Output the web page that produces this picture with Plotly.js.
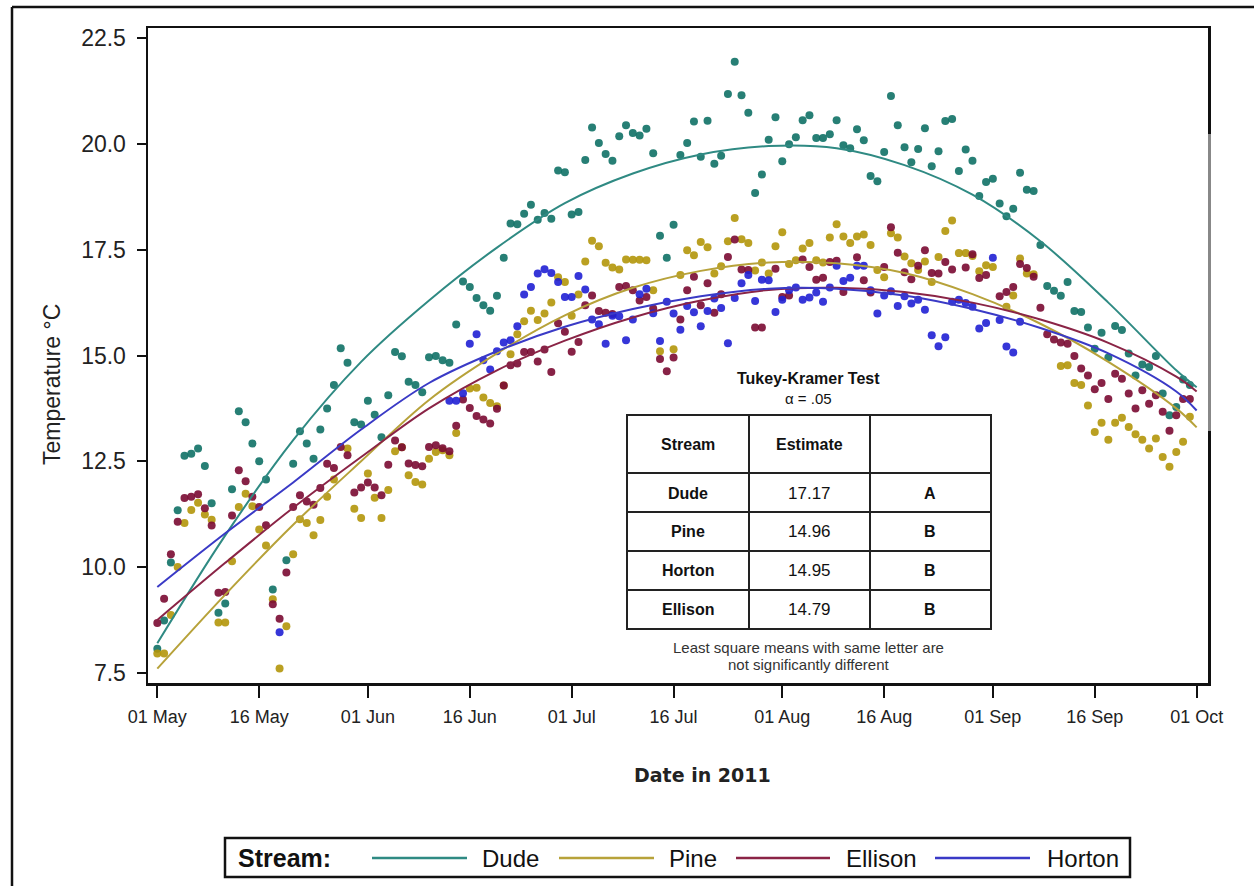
<!DOCTYPE html>
<html><head><meta charset="utf-8">
<script src="https://cdn.plot.ly/plotly-3.0.1.min.js"></script>
<style>body{margin:0;background:#fff}#chart{width:1254px;height:886px}</style>
</head><body><div id="chart"></div>
<script>
// ---------- DATA ----------
const startDate = '2011-05-01';   // day 0 of the daily series
const streams = ['Dude', 'Pine', 'Ellison', 'Horton'];

// daily mean temperature (°C), day 0 = 01 May ... day 152 = 30 Sep, null = not visible
const dudeTemp = [8.07,8.74,10.11,11.34,12.63,12.68,12.80,12.39,11.51,8.92,9.14,11.84,13.68,13.42,12.92,12.50,12.07,9.47,null,10.16,
12.44,13.21,12.92,12.56,13.25,13.75,14.30,15.17,14.83,13.42,13.37,13.93,13.60,13.07,14.06,15.08,14.98,14.38,14.30,14.13,
14.96,14.99,14.89,14.83,15.73,16.75,16.62,16.36,16.19,16.06,16.41,17.31,18.12,18.10,18.35,18.56,18.21,18.37,18.23,19.37,
19.33,18.33,18.39,19.62,20.39,20.02,19.76,19.60,20.18,20.44,20.26,20.20,20.36,19.78,17.83,17.31,18.09,19.74,20.02,20.53,
19.70,20.55,19.53,19.72,21.18,21.94,21.15,20.74,18.84,19.28,20.10,20.63,19.59,19.99,20.16,20.56,20.68,20.14,20.14,20.23,
20.56,19.97,19.90,20.35,20.09,19.24,19.12,19.81,21.13,20.44,19.92,19.57,19.88,20.37,19.47,19.83,20.54,20.59,19.36,19.87,
19.60,18.77,19.10,19.18,18.59,18.29,18.47,19.32,18.92,18.89,17.61,16.64,16.53,16.41,16.74,16.05,16.03,15.66,15.16,15.54,
14.95,15.70,15.60,15.05,14.53,14.79,14.73,14.99,14.10,13.59,13.78,14.43,14.30];
const pineTemp = [7.96,7.96,8.87,10.00,11.04,11.35,11.52,11.24,11.12,8.69,8.69,10.14,11.42,11.73,11.44,10.89,10.51,9.24,7.60,8.60,
10.30,11.13,11.04,10.75,11.11,11.66,12.07,null,12.80,11.38,11.16,12.21,11.64,11.16,11.82,12.74,12.83,12.17,12.01,11.95,
12.56,12.72,12.76,12.64,13.17,null,14.22,14.24,14.01,13.88,13.80,14.29,15.03,15.50,15.81,16.06,15.84,15.99,16.25,16.85,
16.74,15.94,16.44,17.22,17.71,17.58,17.19,17.08,17.03,17.27,17.26,17.26,17.25,16.54,15.10,null,15.15,16.90,17.49,17.37,
17.68,17.56,16.94,17.11,17.70,18.25,17.75,17.66,17.01,17.20,16.94,17.58,17.91,17.16,17.25,17.53,17.66,17.25,17.20,17.79,
18.10,17.81,17.66,17.81,17.86,17.61,17.02,16.85,17.89,17.79,17.34,17.18,17.02,17.22,16.74,17.33,17.94,18.19,17.42,17.42,
17.35,16.99,17.13,17.09,null,16.15,16.42,17.29,16.94,16.92,null,null,null,14.75,14.77,14.35,14.30,13.82,13.19,13.41,
13.01,13.41,13.53,13.31,13.14,13.01,12.80,13.04,12.60,12.37,12.72,12.96,13.55];
const ellisonTemp = [8.68,9.25,10.30,11.07,11.63,11.66,11.72,11.39,10.98,9.39,9.41,11.22,12.29,12.03,11.66,11.42,10.99,9.12,8.78,9.87,
11.42,11.70,11.55,11.47,11.87,12.44,12.34,12.84,12.64,11.76,11.88,12.00,11.88,11.70,12.42,12.99,12.83,12.45,12.41,12.38,
12.84,12.88,12.81,12.74,13.34,13.96,13.76,13.57,13.49,13.39,13.74,14.29,14.77,14.81,15.08,15.08,14.86,15.14,14.61,15.76,
15.56,15.09,15.32,16.19,16.42,16.05,16.01,15.98,16.62,16.64,16.54,16.30,16.38,16.11,14.92,14.63,14.95,15.85,16.54,16.86,
16.19,16.71,16.01,16.45,17.33,17.74,17.03,17.02,15.66,15.66,null,17.05,16.38,16.42,null,17.27,17.09,16.79,16.84,17.21,
17.24,16.50,null,17.32,16.78,16.49,null,17.09,18.03,17.43,16.97,16.80,17.12,17.49,16.95,16.94,17.21,17.03,null,17.08,
17.39,16.83,16.90,null,16.40,16.50,16.62,17.16,17.07,16.86,16.13,15.50,15.38,15.31,15.28,14.99,14.69,14.53,14.20,14.35,
13.97,14.57,14.45,14.10,13.75,14.18,13.86,14.06,13.67,13.22,13.59,13.97,13.97];
const hortonTemp = [null,null,null,null,null,null,null,null,null,null,null,null,null,null,null,null,null,null,8.46,null,
null,null,null,null,null,null,null,null,null,null,null,null,null,null,null,null,null,null,null,null,
null,null,null,13.93,13.93,14.11,15.28,15.50,14.89,14.67,15.10,15.31,15.36,15.69,16.44,16.62,16.94,17.04,16.95,16.74,
16.38,16.38,16.88,16.56,15.85,15.74,15.28,15.94,15.93,15.36,15.85,16.45,16.58,16.00,15.34,16.27,15.99,15.61,16.17,16.02,
15.69,16.05,16.35,16.12,15.29,16.36,16.71,16.90,16.29,16.79,16.78,16.03,16.32,16.54,16.61,16.32,16.37,16.49,16.27,16.61,
17.12,16.76,16.84,17.12,17.12,16.54,15.99,16.42,16.52,16.17,16.40,16.23,16.32,16.08,15.48,15.22,15.43,16.27,16.32,16.24,
16.15,15.64,15.77,17.31,15.84,15.21,15.07,15.80,null,null,null,null,null,null,null,null,null,null,null,null,
null,null,null,null,null,null,null,null,null,null,null,null,null];

// quadratic trend curves (day offset -> °C)
const fitDays    = [0,10,20,30,40,50,60,70,80,90,100,110,120,130,140,150,153];
const dudeFit    = [8.2,10.75,13.0,14.85,16.3,17.55,18.6,19.3,19.75,19.95,19.9,19.5,18.8,17.7,16.25,14.65,14.25];
const pineFit    = [7.6,9.35,11.0,12.5,13.95,15.05,15.95,16.6,17.0,17.2,17.18,16.95,16.45,15.75,14.85,13.75,13.3];
const ellisonFit = [8.75,10.1,11.4,12.6,13.75,14.65,15.35,15.9,16.3,16.55,16.6,16.5,16.25,15.85,15.3,14.5,14.15];
const hortonFit  = [9.53,10.8,12.0,13.25,14.35,15.1,15.68,16.1,16.4,16.58,16.58,16.42,16.1,15.65,15.05,14.15,13.7];

// axis ticks
const tickDates  = ['2011-05-01','2011-05-16','2011-06-01','2011-06-16','2011-07-01','2011-07-16','2011-08-01','2011-08-16','2011-09-01','2011-09-16','2011-10-01'];
const tickLabels = ['01 May','16 May','01 Jun','16 Jun','01 Jul','16 Jul','01 Aug','16 Aug','01 Sep','16 Sep','01 Oct'];
const yTicks     = [7.5,10,12.5,15,17.5,20,22.5];
const yTickText  = ['7.5','10.0','12.5','15.0','17.5','20.0','22.5'];

// Tukey-Kramer table
const tableTitle   = 'Tukey-Kramer Test';
const tableAlpha   = 'α = .05';
const tableHeader  = ['Stream','Estimate',''];
const tableStreams = ['Dude','Pine','Horton','Ellison'];
const tableEst     = ['17.17','14.96','14.95','14.79'];
const tableLetter  = ['A','B','B','B'];
const tableNote    = ['Least square means with same letter are','not significantly different'];

// ---------- BUILD ----------
function dayToDate(d){
  const t = new Date(Date.UTC(2011,4,1) + d*86400000);
  return t.toISOString().slice(0,10);
}
const days = dudeTemp.map((_,i)=>dayToDate(i));
const fitX = fitDays.map(dayToDate);

const dotColors  = {Dude:'#0f7166', Pine:'#b3960a', Ellison:'#7a0a32', Horton:'#2020d4'};
const lineColors = {Dude:'#2f8a83', Pine:'#b7a23a', Ellison:'#8a2446', Horton:'#3a3ac6'};
const seriesVals = {Dude:dudeTemp, Pine:pineTemp, Ellison:ellisonTemp, Horton:hortonTemp};
const fitVals    = {Dude:dudeFit, Pine:pineFit, Ellison:ellisonFit, Horton:hortonFit};

const traces = [];
streams.forEach(s=>{
  traces.push({x:days, y:seriesVals[s], type:'scatter', mode:'markers', name:s, showlegend:false,
    marker:{color:dotColors[s], size:8, opacity:0.9, line:{width:0}}, connectgaps:false, hoverinfo:'x+y'});
});
streams.forEach(s=>{
  traces.push({x:fitX, y:fitVals[s], type:'scatter', mode:'lines', name:s+' fit', showlegend:false,
    line:{color:lineColors[s], width:2, shape:'spline', smoothing:1.0}, hoverinfo:'skip'});
});

// plot area in pixels
const PL=148, PR=1208, PT=28, PB=683;
const X = p => (p-PL)/(PR-PL);
const Y = p => (PB-p)/(PB-PT);
const FONT = 'Liberation Sans, Arial, sans-serif';

const shapes = [];
const annotations = [];
function line(x0,y0,x1,y1,color,w){shapes.push({type:'line',xref:'paper',yref:'paper',x0:X(x0),y0:Y(y0),x1:X(x1),y1:Y(y1),line:{color:color,width:w}});}
function text(t,x,y,size,opts){opts=opts||{};annotations.push({text:t,xref:'paper',yref:'paper',x:X(x),y:Y(y),showarrow:false,
  xanchor:opts.xa||'center',yanchor:'middle',font:{family:opts.family||FONT,size:size,color:opts.color||'#111'},textangle:opts.angle||0});}

// outer figure frame (top + left) and scan artefact on right edge
line(12,7,1254,7,'#111',2.5);
line(12,7,12,886,'#111',2.5);
line(1209.5,134,1209.5,431,'#888',3);

// table
shapes.push({type:'rect',xref:'paper',yref:'paper',x0:X(627),x1:X(991),y0:Y(415),y1:Y(629),line:{color:'#222',width:2},fillcolor:'rgba(255,255,255,0)'});
line(749,415,749,629,'#222',2);
line(870,415,870,629,'#222',2);
[473,512,551,590].forEach(yy=>line(627,yy,991,yy,'#222',2));
text('<b>'+tableTitle+'</b>',808,378,16);
text(tableAlpha,808,398,15);
const colC=[688,809,930];
tableHeader.forEach((h,i)=>{ if(h) text('<b>'+h+'</b>',colC[i],444,16); });
const rowC=[493,531.5,570.5,609.5];
tableStreams.forEach((s,i)=>{
  text('<b>'+s+'</b>',colC[0],rowC[i],16);
  text(tableEst[i],colC[1],rowC[i],17);
  text('<b>'+tableLetter[i]+'</b>',colC[2],rowC[i],16);
});
text(tableNote[0],808,647,15,{color:'#333'});
text(tableNote[1],808,664,15,{color:'#333'});

// axis titles
text('Temperature °C',52,385,23,{angle:-90,color:'#222'});
text('<b>Date in 2011</b>',702,775,19,{family:'DejaVu Sans, sans-serif',color:'#222'});

// custom legend
shapes.push({type:'rect',xref:'paper',yref:'paper',x0:X(225),x1:X(1130),y0:Y(838),y1:Y(877),line:{color:'#111',width:2.5},fillcolor:'rgba(255,255,255,0)'});
text('<b>Stream:</b>',236,858,25,{xa:'left'});
const legLine=[[372,467],[559,654],[736,830],[935,1030]];
const legText=[480,667,844,1045];
streams.forEach((s,i)=>{
  line(legLine[i][0],858,legLine[i][1],858,lineColors[s],2.5);
  text(s,legText[i],858,24,{xa:'left'});
});

const layout = {
  width:1254, height:886,
  margin:{l:PL, r:1254-PR, t:PT, b:886-PB, pad:0},
  paper_bgcolor:'#fff', plot_bgcolor:'#fff',
  showlegend:false,
  xaxis:{type:'date', range:['2011-04-29 15:07','2011-10-02 16:05'], tickvals:tickDates, ticktext:tickLabels,
    showgrid:false, zeroline:false, showline:true, linecolor:'#111', linewidth:2.5, mirror:true,
    ticks:'outside', ticklen:12, tickwidth:2, tickcolor:'#111', ticklabelstandoff:4,
    tickfont:{family:FONT,size:18,color:'#222'}},
  yaxis:{range:[7.26,22.74], tickvals:yTicks, ticktext:yTickText,
    showgrid:false, zeroline:false, showline:true, linecolor:'#111', linewidth:2.5, mirror:true,
    ticks:'outside', ticklen:9, tickwidth:2, tickcolor:'#111', ticklabelstandoff:6,
    tickfont:{family:FONT,size:23,color:'#222'}},
  shapes:shapes, annotations:annotations
};
Plotly.newPlot('chart', traces, layout, {displayModeBar:false, staticPlot:true});
</script></body></html>
